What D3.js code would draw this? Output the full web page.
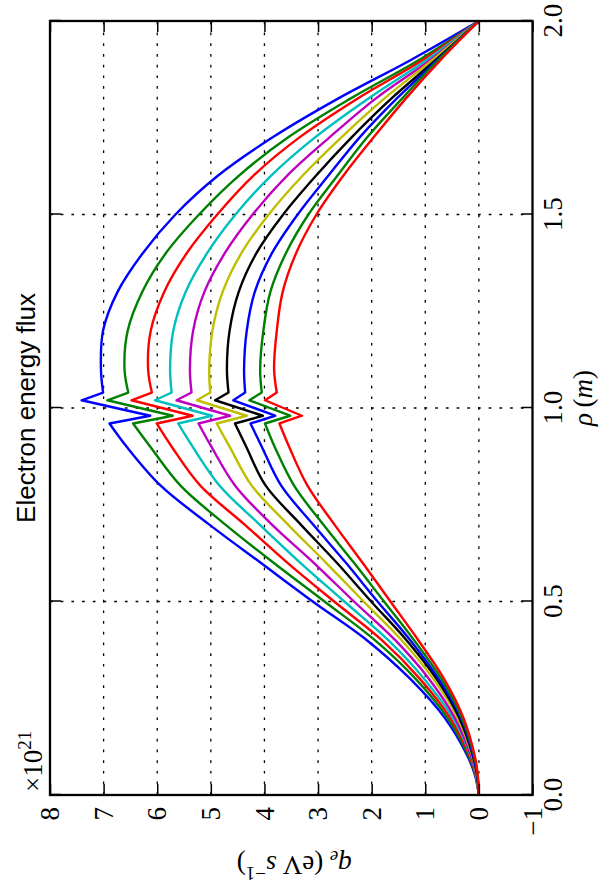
<!DOCTYPE html>
<html>
<head>
<meta charset="utf-8">
<script src="https://cdn.jsdelivr.net/npm/d3@7"></script>
<style>
  html, body { margin: 0; padding: 0; background: #fff; }
  svg { display: block; }
</style>
</head>
<body>
<svg id="chart" width="600" height="892"></svg>
<script>
// ---------- data ----------
const rho = [0, 0.05, 0.1, 0.2, 0.3, 0.4, 0.5, 0.6, 0.7, 0.8, 0.9, 0.96, 0.98, 1.02, 1.04, 1.1, 1.2, 1.3, 1.4, 1.5, 1.6, 1.7, 1.8, 1.9, 2.0];
const qBlue1    = [0, 0.07, 0.21, 0.64, 1.28, 2.09, 3.10, 4.07, 5.04, 5.94, 6.57, 6.89, 6.13, 7.41, 7.01, 7.05, 7.01, 6.74, 6.27, 5.66, 4.87, 3.84, 2.62, 1.26, 0];
const qGreen1   = [0, 0.06, 0.19, 0.59, 1.18, 1.94, 2.88, 3.83, 4.74, 5.57, 6.13, 6.45, 5.71, 6.93, 6.54, 6.61, 6.55, 6.28, 5.84, 5.22, 4.48, 3.55, 2.39, 1.11, 0];
const qRed1     = [0, 0.055, 0.17, 0.54, 1.10, 1.81, 2.70, 3.57, 4.38, 5.20, 5.73, 6.01, 5.34, 6.48, 6.10, 6.17, 6.12, 5.87, 5.45, 4.88, 4.21, 3.34, 2.26, 1.04, 0];
const qCyan     = [0, 0.05, 0.15, 0.49, 1.02, 1.69, 2.51, 3.33, 4.10, 4.84, 5.34, 5.61, 4.98, 6.04, 5.73, 5.76, 5.70, 5.47, 5.07, 4.54, 3.88, 3.05, 2.06, 0.97, 0];
const qMagenta  = [0, 0.045, 0.14, 0.45, 0.93, 1.56, 2.33, 3.08, 3.87, 4.55, 4.99, 5.23, 4.64, 5.64, 5.36, 5.39, 5.33, 5.12, 4.74, 4.22, 3.58, 2.78, 1.92, 0.90, 0];
const qYellow   = [0, 0.04, 0.12, 0.40, 0.85, 1.44, 2.15, 2.85, 3.57, 4.24, 4.65, 4.89, 4.33, 5.26, 5.01, 5.03, 4.97, 4.78, 4.43, 3.92, 3.29, 2.56, 1.76, 0.86, 0];
const qBlack    = [0, 0.035, 0.11, 0.37, 0.79, 1.35, 2.01, 2.65, 3.33, 3.98, 4.34, 4.55, 4.03, 4.92, 4.67, 4.70, 4.65, 4.48, 4.15, 3.65, 3.04, 2.37, 1.63, 0.80, 0];
const qBlue2    = [0, 0.03, 0.10, 0.34, 0.75, 1.28, 1.89, 2.48, 3.10, 3.69, 4.05, 4.26, 3.80, 4.58, 4.36, 4.38, 4.33, 4.18, 3.86, 3.38, 2.81, 2.22, 1.53, 0.77, 0];
const qGreen2   = [0, 0.025, 0.085, 0.32, 0.70, 1.21, 1.77, 2.33, 2.91, 3.45, 3.81, 3.99, 3.52, 4.28, 4.05, 4.08, 4.02, 3.89, 3.60, 3.18, 2.64, 2.08, 1.43, 0.75, 0];
const qRed2     = [0, 0.02, 0.075, 0.29, 0.65, 1.13, 1.65, 2.17, 2.70, 3.20, 3.54, 3.72, 3.30, 3.99, 3.77, 3.82, 3.77, 3.66, 3.41, 3.03, 2.53, 1.96, 1.36, 0.71, 0];
const seriesList = [qBlue1, qGreen1, qRed1, qCyan, qMagenta, qYellow, qBlack, qBlue2, qGreen2, qRed2];
const seriesColors = ["#0000ff", "#008000", "#ff0000", "#00bfbf", "#bf00bf", "#bfbf00", "#000000", "#0000ff", "#008000", "#ff0000"];
const rhoTicks = [0, 0.5, 1.0, 1.5, 2.0];
const rhoTickLabels = ["0.0", "0.5", "1.0", "1.5", "2.0"];
const qTicks = [-1, 0, 1, 2, 3, 4, 5, 6, 7, 8];
const qTickLabels = ["\u22121", "0", "1", "2", "3", "4", "5", "6", "7", "8"];
const titleText = "Electron energy flux";
const notchStart = 11, notchEnd = 14; // indices of the sharp (linear) section

// ---------- layout (original landscape figure, then rotated) ----------
const FW = 892, FH = 600;
const L = 97, R = 871, T = 50, B = 532.5;
const serif = "'Liberation Serif','DejaVu Serif',serif";
const sans = "'Liberation Sans',Arial,Helvetica,sans-serif";

const svg = d3.select("#chart");
svg.append("rect").attr("width", 600).attr("height", 892).attr("fill", "#fff");
const g = svg.append("g").attr("transform", `translate(0,${FW}) rotate(-90)`);

const x = d3.scaleLinear().domain([0, 2]).range([L, R]);
const y = d3.scaleLinear().domain([-1, 8]).range([B, T]);

// grid
const grid = g.append("g").attr("stroke", "#000").attr("stroke-width", 1.3)
  .attr("stroke-dasharray", "2.7,8").attr("fill", "none");
grid.selectAll("line.gx").data(rhoTicks.slice(1, -1)).join("line").attr("class", "gx")
  .attr("x1", d => x(d)).attr("x2", d => x(d)).attr("y1", T).attr("y2", B);
grid.selectAll("line.gy").data(qTicks.slice(1, -1)).join("line").attr("class", "gy")
  .attr("y1", d => y(d)).attr("y2", d => y(d)).attr("x1", L).attr("x2", R);

// curves
g.append("clipPath").attr("id", "clip").append("rect")
  .attr("x", L).attr("y", T).attr("width", R - L).attr("height", B - T);
const smooth = d3.line().x(d => x(d[0])).y(d => y(d[1])).curve(d3.curveCatmullRom.alpha(0.5));
const sharp = d3.line().x(d => x(d[0])).y(d => y(d[1]));
const curves = g.append("g").attr("clip-path", "url(#clip)");
seriesList.forEach((vals, k) => {
  const pts = rho.map((r, i) => [r, vals[i]]);
  const p1 = smooth(pts.slice(0, notchStart + 1));
  const p2 = sharp(pts.slice(notchStart, notchEnd + 1)).replace(/^M/, "L");
  const p3 = smooth(pts.slice(notchEnd)).replace(/^M/, "L");
  curves.append("path").attr("d", p1 + p2 + p3)
    .attr("fill", "none").attr("stroke", seriesColors[k])
    .attr("stroke-width", 2.4).attr("stroke-linejoin", "round");
});

// axes
function styleAxis(sel) {
  sel.select(".domain").remove();
  sel.selectAll(".tick line").attr("stroke", "#000").attr("stroke-width", 1.5);
  sel.attr("font-family", serif).attr("font-size", 27);
  sel.selectAll(".tick text").attr("fill", "#000");
}
g.append("g").attr("transform", `translate(0,${B})`)
  .call(d3.axisBottom(x).tickValues(rhoTicks).tickFormat((d, i) => rhoTickLabels[i])
    .tickSizeInner(-11).tickSizeOuter(0).tickPadding(10))
  .call(styleAxis);
g.append("g").attr("transform", `translate(0,${T})`)
  .call(d3.axisTop(x).tickValues(rhoTicks).tickFormat("")
    .tickSizeInner(-11).tickSizeOuter(0))
  .call(styleAxis);
g.append("g").attr("transform", `translate(${L},0)`)
  .call(d3.axisLeft(y).tickValues(qTicks).tickFormat((d, i) => qTickLabels[i])
    .tickSizeInner(-11).tickSizeOuter(0).tickPadding(12))
  .call(styleAxis);
g.append("g").attr("transform", `translate(${R},0)`)
  .call(d3.axisRight(y).tickValues(qTicks).tickFormat("")
    .tickSizeInner(-11).tickSizeOuter(0))
  .call(styleAxis);

// frame
g.append("rect").attr("x", L).attr("y", T).attr("width", R - L).attr("height", B - T)
  .attr("fill", "none").attr("stroke", "#000").attr("stroke-width", 2.3);

// title
g.append("text").attr("x", (L + R) / 2).attr("y", 35).attr("text-anchor", "middle")
  .attr("font-family", sans).attr("font-size", 26).attr("fill", "#000").text(titleText);

// offset text x10^21
const off = g.append("text").attr("x", 100).attr("y", 42)
  .attr("font-family", serif).attr("font-size", 27).attr("fill", "#000");
off.append("tspan").text("\u00d710");
off.append("tspan").attr("dy", -11).attr("font-size", 19).text("21");

// x label
const xl = g.append("text").attr("x", 494).attr("y", 592).attr("text-anchor", "middle")
  .attr("font-family", serif).attr("font-size", 27).attr("fill", "#000");
xl.append("tspan").attr("font-style", "italic").text("\u03c1");
xl.append("tspan").text("\u2009(");
xl.append("tspan").attr("font-style", "italic").text("m");
xl.append("tspan").text(")");

// y label
const yl = g.append("text").attr("transform", `translate(36,${(T + B) / 2 + 3}) rotate(-90)`)
  .attr("text-anchor", "middle").attr("font-family", serif).attr("font-size", 27).attr("fill", "#000");
yl.append("tspan").attr("font-style", "italic").text("q");
yl.append("tspan").attr("font-style", "italic").attr("font-size", 19).attr("dy", 5).text("e");
yl.append("tspan").attr("dy", -5).text(" (eV ");
yl.append("tspan").attr("font-style", "italic").text("s");
yl.append("tspan").attr("font-size", 19).attr("dy", -11).text("\u22121");
yl.append("tspan").attr("dy", 11).text(")");
</script>
</body>
</html>
